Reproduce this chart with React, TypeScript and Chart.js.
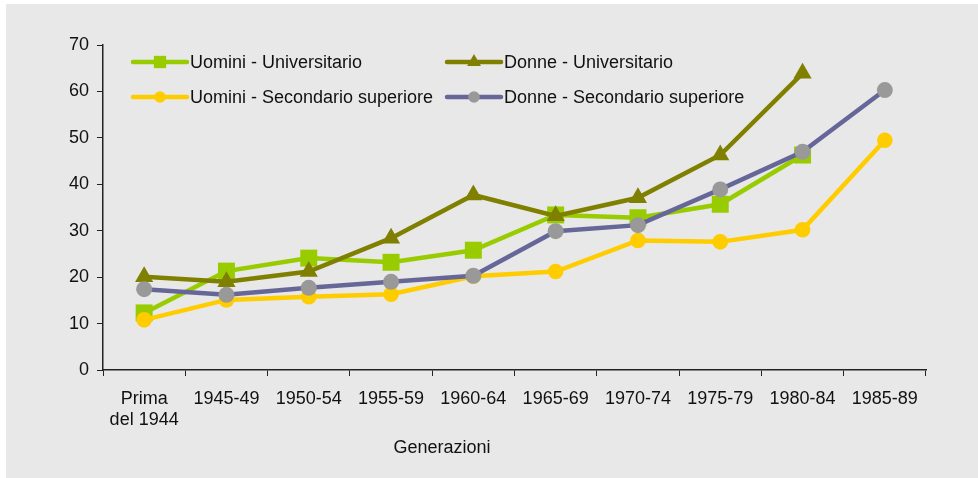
import React, { useEffect, useRef } from "react";
import { Chart, registerables } from "chart.js";

Chart.register(...registerables);

const categories: (string | string[])[] = [
  ["Prima", "del 1944"],
  "1945-49",
  "1950-54",
  "1955-59",
  "1960-64",
  "1965-69",
  "1970-74",
  "1975-79",
  "1980-84",
  "1985-89",
];

const uominiUniversitario = [12.3, 21.3, 24.1, 23.2, 25.8, 33.4, 32.8, 35.7, 46.3, null];
const donneUniversitario = [20.1, 19.0, 21.2, 28.4, 37.7, 33.2, 37.1, 46.3, 63.9, null];
const uominiSecondario = [10.8, 15.1, 15.8, 16.3, 20.2, 21.2, 27.9, 27.6, 30.2, 49.5];
const donneSecondario = [17.4, 16.2, 17.7, 19.0, 20.3, 29.9, 31.2, 38.9, 47.0, 60.3];

const yTicks = [0, 10, 20, 30, 40, 50, 60, 70];
const xTitle = "Generazioni";

const FONT = "'Liberation Sans', Arial, sans-serif";
const BG = "#e7e8e7";

const legendItems = [
  { label: "Uomini - Universitario", line: "#99cc00", fill: "#99cc00", style: "rect", r: 8.7, col: 0, row: 0 },
  { label: "Uomini - Secondario superiore", line: "#ffcc00", fill: "#ffcc00", style: "circle", r: 5.8, col: 0, row: 1 },
  { label: "Donne - Universitario", line: "#808000", fill: "#808000", style: "triangle", r: 8, col: 1, row: 0 },
  { label: "Donne - Secondario superiore", line: "#666699", fill: "#999999", style: "circle", r: 5.8, col: 1, row: 1 },
];

function drawMarker(ctx: CanvasRenderingContext2D, style: string, r: number, x: number, y: number, color: string) {
  ctx.fillStyle = color;
  ctx.beginPath();
  if (style === "rect") {
    const s = Math.SQRT1_2 * r;
    ctx.rect(x - s, y - s, 2 * s, 2 * s);
  } else if (style === "circle") {
    ctx.arc(x, y, r, 0, Math.PI * 2);
  } else {
    const a = (2 * Math.PI) / 3;
    ctx.moveTo(x, y - r);
    ctx.lineTo(x + Math.sin(a) * r, y - Math.cos(a) * r);
    ctx.lineTo(x + Math.sin(2 * a) * r, y - Math.cos(2 * a) * r);
    ctx.closePath();
  }
  ctx.fill();
}

const overlayPlugin = {
  id: "overlay",
  beforeDraw(chart: any) {
    const ctx = chart.ctx;
    ctx.save();
    ctx.fillStyle = BG;
    ctx.fillRect(0, 0, chart.width, chart.height);
    ctx.restore();
  },
  afterDraw(chart: any) {
    const ctx = chart.ctx;
    ctx.save();
    const colX = [127, 441];
    const rowY = [58, 93];
    for (const it of legendItems) {
      const x0 = colX[it.col];
      const y = rowY[it.row];
      ctx.strokeStyle = it.line;
      ctx.lineWidth = 4.5;
      ctx.lineCap = "round";
      ctx.beginPath();
      ctx.moveTo(x0, y);
      ctx.lineTo(x0 + 54, y);
      ctx.stroke();
      drawMarker(ctx, it.style, it.r, x0 + 27, y, it.fill);
      ctx.fillStyle = "#111";
      ctx.font = "18px " + FONT;
      ctx.textBaseline = "middle";
      ctx.textAlign = "left";
      ctx.fillText(it.label, x0 + 57, y + 1);
    }
    ctx.font = "18px " + FONT;
    ctx.textAlign = "center";
    ctx.textBaseline = "middle";
    ctx.fillStyle = "#111";
    ctx.fillText(xTitle, 436, 444);
    ctx.restore();
  },
};

export default function App() {
  const ref = useRef<HTMLCanvasElement | null>(null);

  useEffect(() => {
    document.body.style.margin = "0";
    document.body.style.background = "#ffffff";
    const canvas = ref.current;
    if (!canvas) return;
    const mk = (label: string, data: (number | null)[], line: string, fill: string, style: string, r: number, order: number) => ({
      label,
      data,
      borderColor: line,
      backgroundColor: fill,
      pointBackgroundColor: fill,
      pointBorderColor: fill,
      pointBorderWidth: 0,
      pointStyle: style,
      pointRadius: r,
      pointHoverRadius: r,
      borderWidth: 4.5,
      tension: 0,
      spanGaps: false,
      order,
    });
    const chart = new Chart(canvas, {
      type: "line",
      data: {
        labels: categories as any,
        datasets: [
          mk("Uomini - Universitario", uominiUniversitario, "#99cc00", "#99cc00", "rect", 12, 3),
          mk("Uomini - Secondario superiore", uominiSecondario, "#ffcc00", "#ffcc00", "circle", 7.8, 2),
          mk("Donne - Universitario", donneUniversitario, "#808000", "#808000", "triangle", 10.5, 1),
          mk("Donne - Secondario superiore", donneSecondario, "#666699", "#999999", "circle", 8, 0),
        ] as any,
      },
      options: {
        animation: false,
        responsive: false,
        maintainAspectRatio: false,
        layout: { padding: { left: 0, right: 52, top: 41, bottom: 0 } },
        plugins: {
          legend: { display: false },
          tooltip: { enabled: false },
          title: { display: false },
        },
        scales: {
          x: {
            type: "category",
            offset: true,
            grid: {
              offset: true,
              drawOnChartArea: false,
              drawTicks: true,
              tickLength: 6,
              color: "#222",
            },
            border: { color: "#222", width: 1.5 },
            ticks: {
              color: "#111",
              font: { family: FONT, size: 18 },
              padding: 12,
              maxRotation: 0,
              autoSkip: false,
            },
            afterFit: (s: any) => {
              s.height = 108;
            },
          } as any,
          y: {
            min: 0,
            max: 70,
            afterBuildTicks: (s: any) => {
              s.ticks = yTicks.map((v) => ({ value: v }));
            },
            grid: {
              drawOnChartArea: false,
              drawTicks: true,
              tickLength: 6,
              color: "#222",
            },
            border: { color: "#222", width: 1.5 },
            ticks: {
              color: "#111",
              font: { family: FONT, size: 18 },
              padding: 8,
            },
            afterFit: (s: any) => {
              s.width = 97;
            },
          } as any,
        },
      },
      plugins: [overlayPlugin],
    });
    return () => chart.destroy();
  }, []);

  return (
    <div style={{ paddingLeft: 6, paddingTop: 4, background: "#fff" }}>
      <canvas ref={ref} width={972} height={474} style={{ display: "block", width: 972, height: 474 }} />
    </div>
  );
}
